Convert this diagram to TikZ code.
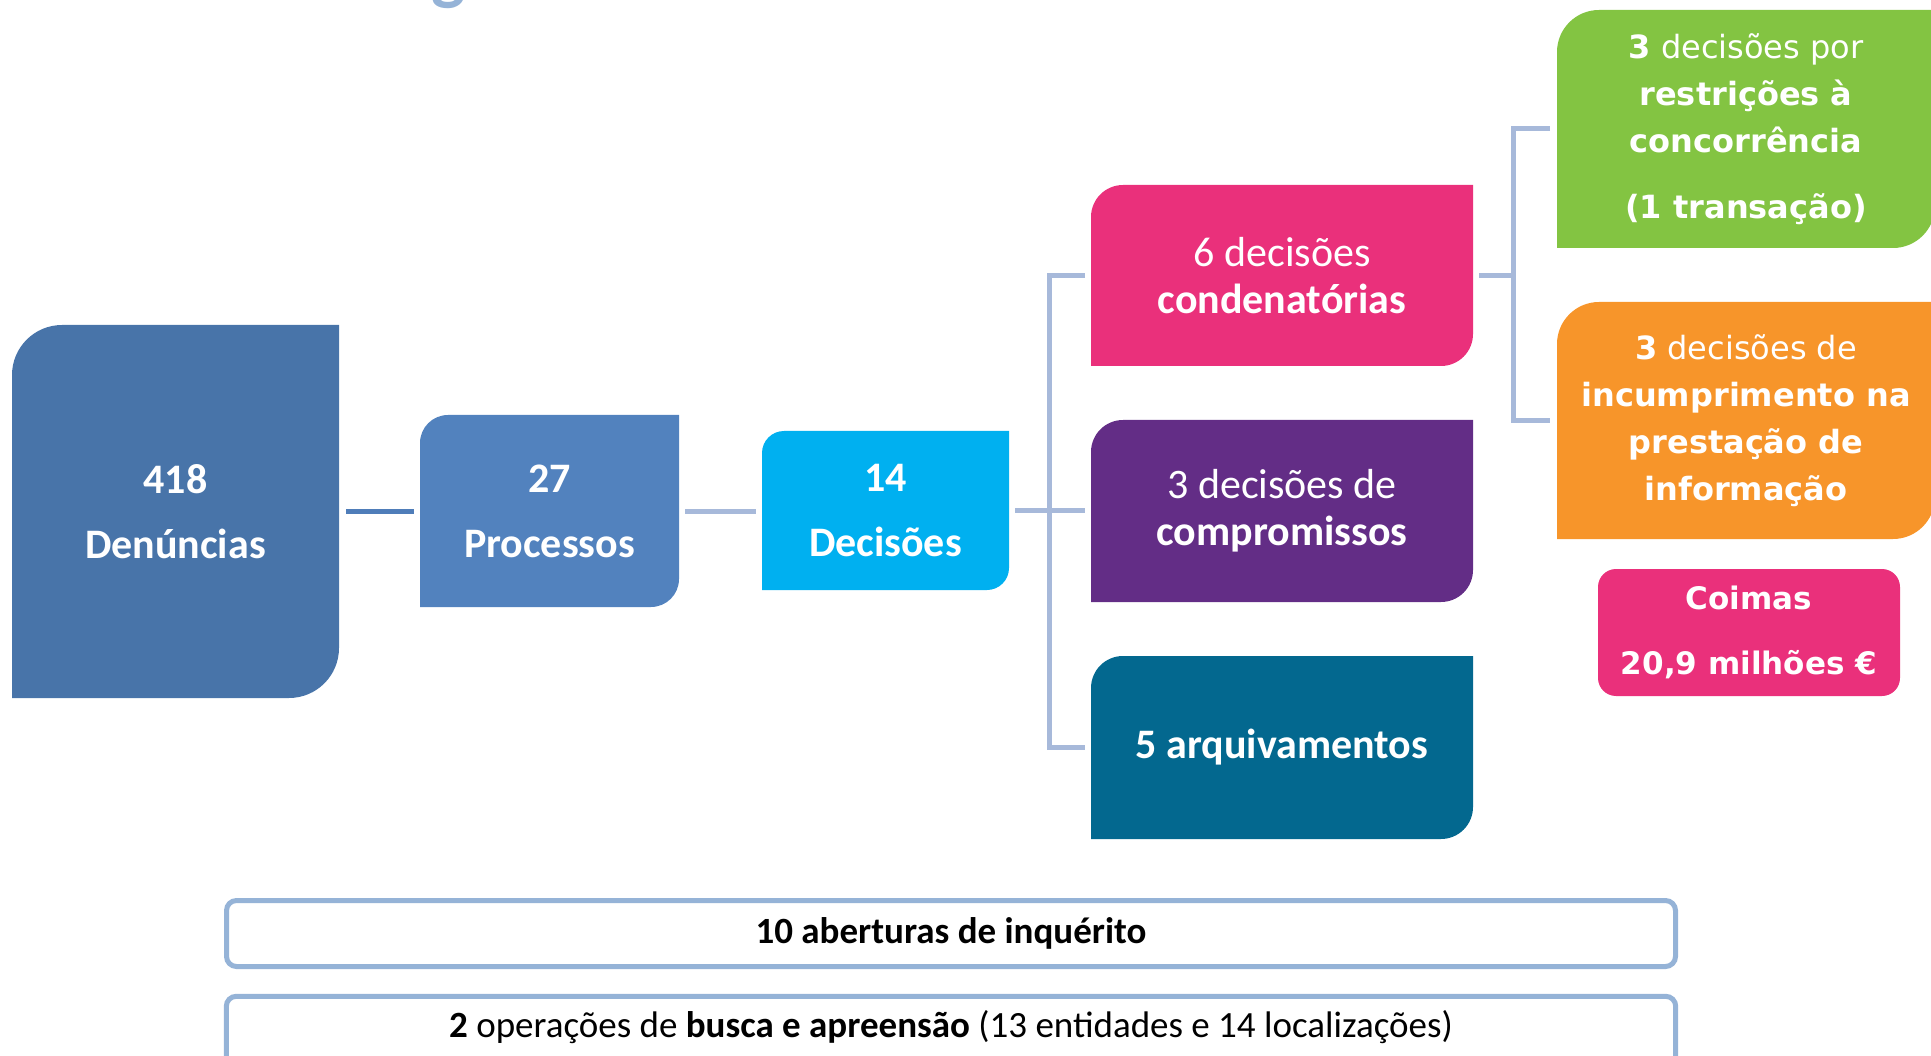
\documentclass[tikz,border=0pt]{standalone}
\usepackage{fontspec}
\setmainfont{Carlito}
\newfontfamily\verd{DejaVu Sans}
\usetikzlibrary{backgrounds,calc}
\definecolor{cA}{HTML}{4874A9}
\definecolor{cB}{HTML}{5282BE}
\definecolor{cC}{HTML}{00B0F0}
\definecolor{cPink}{HTML}{EA307B}
\definecolor{cPurple}{HTML}{632D86}
\definecolor{cTeal}{HTML}{03688F}
\definecolor{cGreen}{HTML}{83C442}
\definecolor{cOrange}{HTML}{F7952A}
\definecolor{cLine}{HTML}{A7B9DA}
\definecolor{cLineDark}{HTML}{4F7DB9}
\definecolor{cFrame}{HTML}{95B3D7}
\newcommand\tlbrbox[3]{%
  \fill[#3] (#1.south west) -- ([yshift=-#2]#1.north west)
    arc[start angle=180,end angle=90,radius=#2] -- (#1.north east)
    -- ([yshift=#2]#1.south east)
    arc[start angle=0,end angle=-90,radius=#2] -- cycle;}
\tikzset{
  holder/.style={inner sep=0pt, outer sep=0pt, align=center, text=white},
  bigtxt/.style={font=\fontsize{42}{65}\selectfont\bfseries},
  midtxt/.style={font=\fontsize{42}{47}\selectfont},
  verdtxt/.style={font=\verd\fontsize{32}{47}\selectfont},
  conn/.style={draw=cLine, line width=5pt},
  conndark/.style={draw=cLineDark, line width=5pt},
  frame/.style={draw=cFrame, line width=5pt, rounded corners=10pt, fill=white},
}
\begin{document}
\begin{tikzpicture}[x=1pt,y=1pt]
\clip (0,0) rectangle (1931,-1056);
\useasboundingbox (0,0) rectangle (1931,-1056);

% title fragment
\node[anchor=base, inner sep=0pt, text=cFrame, font=\fontsize{72}{72}\selectfont\bfseries] (ttl) at (449,3) {g};

% nodes
\node[holder, bigtxt, minimum width=327pt, minimum height=373pt] (A) at (175.5,-511.5) {418\\Denúncias};
\node[holder, bigtxt, minimum width=259pt, minimum height=192pt] (B) at (549.5,-511) {27\\Processos};
\node[holder, bigtxt, minimum width=247pt, minimum height=159pt] (C) at (885.5,-510.5) {14\\Decisões};
\node[holder, midtxt, minimum width=382pt, minimum height=181pt] (D1) at (1282,-275.5) {6 decisões\\\textbf{condenatórias}};
\node[holder, midtxt, minimum width=382pt, minimum height=182pt] (D2) at (1282,-511) {3 decisões de\\\textbf{compromissos}};
\node[holder, midtxt, minimum width=382pt, minimum height=183pt] (D3) at (1282,-747.5) {\textbf{5 arquivamentos}};
\node[holder, verdtxt, minimum width=378pt, minimum height=238pt] (E1) at (1746,-129) {\textbf{3} decisões por\\\textbf{restrições à}\\\textbf{concorrência}\\[19pt]\textbf{(1 transação)}};
\node[holder, verdtxt, minimum width=378pt, minimum height=237pt] (E2) at (1746,-420.5) {\textbf{3} decisões de\\\textbf{incumprimento na}\\\textbf{prestação de}\\\textbf{informação}};
\node[holder, font=\verd\fontsize{31}{65}\selectfont\bfseries, minimum width=302pt, minimum height=127pt, fill=cPink, rounded corners=18pt] (F) at (1749,-632.5) {Coimas\\20,9 milhões €};
\node[frame, inner sep=0pt, minimum width=1449pt, minimum height=66pt, font=\fontsize{37}{44}\selectfont\bfseries] (G1) at (951,-933.5) {10 aberturas de inquérito};
\node[inner sep=0pt, minimum width=1449pt, minimum height=62pt, font=\fontsize{37}{44}\selectfont] (G2) at (951,-1027.5) {\textbf{2} operações de \textbf{busca e apreensão} (13 entidades e 14 localizações)};

\begin{scope}[on background layer]
  \tlbrbox{A}{50pt}{cA}
  \tlbrbox{B}{28pt}{cB}
  \tlbrbox{C}{22pt}{cC}
  \tlbrbox{D1}{32pt}{cPink}
  \tlbrbox{D2}{32pt}{cPurple}
  \tlbrbox{D3}{32pt}{cTeal}
  \tlbrbox{E1}{42pt}{cGreen}
  \tlbrbox{E2}{42pt}{cOrange}
  \draw[frame] (G2.north west) rectangle ([yshift=-30pt]G2.south east);
\end{scope}

% connectors
\draw[conndark, shorten <=7pt, shorten >=6pt] (A.east) -- (A.east -| B.west);
\draw[conn, shorten <=6pt, shorten >=6pt] (B.east) -- (B.east -| C.west);
\draw[conn, shorten <=6pt, shorten >=6pt] (C.east) -- (C.east -| D2.west);
\draw[conn] ([xshift=-6pt]D1.west) -- ++(-36pt,0) |- ([xshift=-6pt]D3.west);
\draw[conn] ([xshift=6pt]D1.east) -- ++(34pt,0);
\draw[conn] ([xshift=-7pt]E1.west) -- ++(-37pt,0) |- ([xshift=-7pt]E2.west);
\end{tikzpicture}
\end{document}
